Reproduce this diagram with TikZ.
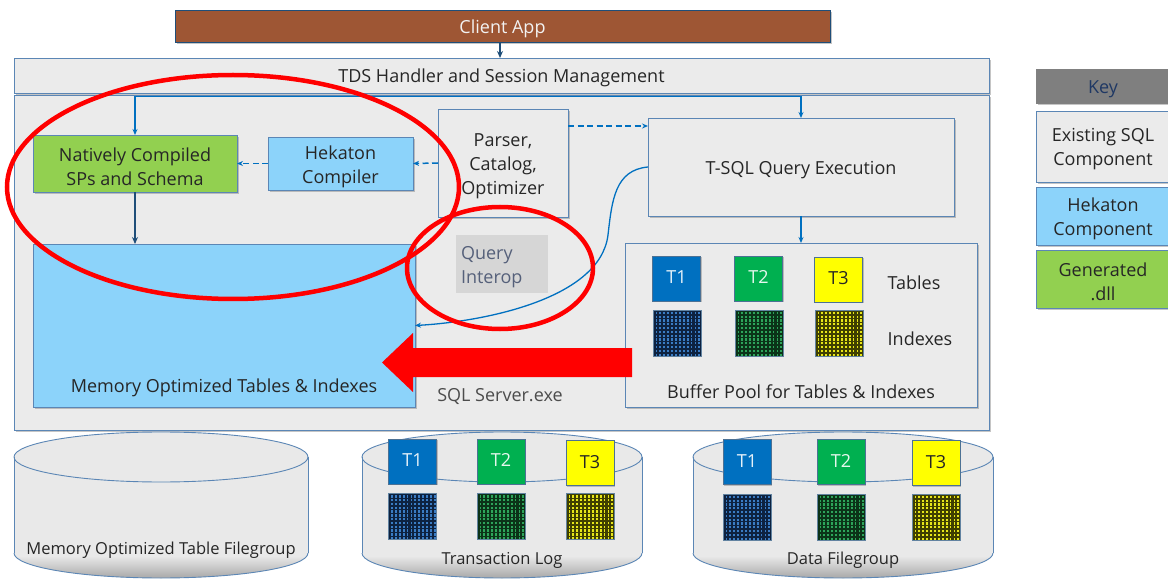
\documentclass[tikz,border=0pt]{standalone}
\usepackage{fontspec}
\setmainfont{Open Sans}
\usetikzlibrary{arrows.meta,calc,shadows}
\definecolor{grayfill}{HTML}{EBEBEB}
\definecolor{bordc}{HTML}{5B86B5}
\definecolor{hekblue}{HTML}{8CD3FA}
\definecolor{gengreen}{HTML}{92D050}
\definecolor{brownc}{HTML}{9E5634}
\definecolor{tone}{HTML}{0070C0}
\definecolor{ttwo}{HTML}{00B050}
\definecolor{tthree}{HTML}{FFFF00}
\definecolor{connblue}{HTML}{0070C0}
\definecolor{conndark}{HTML}{1F4E79}
\definecolor{qitext}{HTML}{55607A}
\definecolor{qifill}{HTML}{D6D6D6}
\definecolor{keygray}{HTML}{7F7F7F}
\definecolor{keytext}{HTML}{1F3864}
\definecolor{cylfill}{HTML}{E9E9E9}
\definecolor{idxbluel}{HTML}{3A7CC4}
\definecolor{idxblued}{HTML}{0D2240}
\definecolor{idxgreenl}{HTML}{2DA45A}
\definecolor{idxgreend}{HTML}{0B3318}
\definecolor{idxyell}{HTML}{E6E619}
\definecolor{idxyeld}{HTML}{3F3F00}
\definecolor{txtdark}{HTML}{262626}
\newcommand\dbcyl[2]{%
  \fill[cylfill] (#1-#2,457) rectangle (#1+#2,553);
  \fill[cylfill] (#1,553) ellipse [x radius=#2, y radius=25];
  \fill[cylfill] (#1,457) ellipse [x radius=#2, y radius=25];
  \begin{scope}
    \clip (#1,553) ellipse [x radius=#2, y radius=25];
    \clip (#1-#2-2,556) rectangle (#1+#2+2,585);
    \shade[top color=cylfill, bottom color=gray!70] (#1-#2-2,556) rectangle (#1+#2+2,579);
  \end{scope}
  \draw[bordc, line width=0.9pt] (#1,457) ellipse [x radius=#2, y radius=25];
  \draw[bordc, line width=0.9pt] (#1-#2,457) -- (#1-#2,553);
  \draw[bordc, line width=0.9pt] (#1+#2,457) -- (#1+#2,553);
  \begin{scope}
    \clip (#1-#2-3,553) rectangle (#1+#2+3,590);
    \draw[bordc, line width=0.9pt] (#1,553) ellipse [x radius=#2, y radius=25];
  \end{scope}}
\tikzset{
  box/.style={draw=bordc, line width=0.9pt, inner sep=0pt, outer sep=0pt,
    drop shadow={shadow xshift=1.8pt, shadow yshift=-1.8pt, opacity=0.45}},
  graybox/.style={box, fill=grayfill},
  bluebox/.style={box, fill=hekblue},
  greenbox/.style={box, fill=gengreen},
  boxtext/.style={inner sep=0pt, align=center, text=txtdark},
  plainlbl/.style={inner sep=0pt, text=txtdark},
  tbox/.style={draw=conndark!80, line width=0.8pt, minimum width=48,
    minimum height=45, inner sep=0pt, text depth=0pt, text height=10pt,
    drop shadow={shadow xshift=1.4pt, shadow yshift=-1.4pt, opacity=0.45}},
  idx/.style 2 args={draw=conndark!70, line width=0.6pt, minimum width=48,
    minimum height=46, inner sep=0pt, fill=#1,
    path picture={
      \foreach \k in {0,...,12}{
        \draw[#2, line width=2.1pt]
          ([xshift=1.5+3.9*\k]path picture bounding box.north west) --
          ([xshift=1.5+3.9*\k]path picture bounding box.south west);}
      \foreach \k in {0,...,12}{
        \draw[#2, line width=1.5pt]
          ([yshift=-1-3.8*\k]path picture bounding box.north west) --
          ([yshift=-1-3.8*\k]path picture bounding box.north east);}
    }},
  conn/.style={connblue, line width=1.3pt, -{Stealth[length=6pt,width=5pt]}},
  conndk/.style={conndark, line width=1.5pt, -{Stealth[length=7pt,width=6pt]}},
  dconn/.style={conn, line width=1.5pt, dash pattern=on 6pt off 3.5pt},
  redring/.style={red, line width=4.5pt},
}
\begin{document}
\begin{tikzpicture}[x=1pt,y=-1pt,font=\fontsize{18}{24}\selectfont]
\useasboundingbox[fill=white] (0,0) rectangle (1168,580);

% SQL Server frame
\node[graybox, minimum width=975, minimum height=35] (tds) at (501.5,75.5) {};
\node[boxtext] (tdst) at ([yshift=-2.5]tds.center) {TDS Handler and Session Management};
\node[graybox, minimum width=975, minimum height=335] (inner) at (501.5,262.5) {};

% client app
\node[box, fill=brownc, draw=conndark, minimum width=655, minimum height=32] (client) at (502.5,26) {};
\node[boxtext, text=white!95!black] (clientt) at ([yshift=-2.5]client.center) {Client App};
\draw[conndk] (client.south -| 500,0) -- (tds.north -| 500,0);

% components
\node[greenbox, minimum width=204, minimum height=57] (nat) at (135,163.5) {};
\node[boxtext] (natt) at ([yshift=-3]nat.center) {Natively Compiled\\SPs and Schema};
\node[bluebox, minimum width=145, minimum height=53] (hek) at (340.5,163.5) {};
\node[boxtext] (hekt) at ([yshift=-3]hek.center) {Hekaton\\Compiler};
\node[graybox, minimum width=130, minimum height=108] (parser) at (503,163) {};
\node[boxtext] (parsert) at ([yshift=-3]parser.center) {Parser,\\Catalog,\\Optimizer};
\node[graybox, minimum width=306, minimum height=98] (tsql) at (801,167) {};
\node[boxtext] (tsqlt) at ([yshift=-3]tsql.center) {T-SQL Query Execution};
\node[fill=qifill, minimum width=92, minimum height=58, inner sep=0pt] (qi) at (502,264) {};
\node[boxtext, text=qitext, align=left, text width=82] (qit) at ([yshift=-3]qi.center) {Query\\Interop};
\node[bluebox, minimum width=382, minimum height=163] (mem) at (224,325.5) {};
\node[plainlbl] (memlbl) at (224,388) {Memory Optimized Tables \& Indexes};
\node[graybox, minimum width=352, minimum height=164] (bp) at (801,325) {};
\node[plainlbl] (bplbl) at (801,392) {Buffer Pool for Tables \& Indexes};
\node[plainlbl, text=black!70] (sqlexe) at (500,397) {SQL Server.exe};

% buffer pool contents
\node[tbox, fill=tone, text=white!90!tone] (bpt1) at (676.5,278.5) {T1};
\node[tbox, fill=ttwo, text=white!90!ttwo] (bpt2) at (758.5,278.5) {T2};
\node[tbox, fill=tthree, text=black!85] (bpt3) at (838.5,279.5) {T3};
\node[idx={idxbluel}{idxblued}] (bpi1) at (677,333) {};
\node[idx={idxgreenl}{idxgreend}] (bpi2) at (759,333) {};
\node[idx={idxyell}{idxyeld}] (bpi3) at (839,333) {};
\node[plainlbl] (tables) at (914,283) {Tables};
\node[plainlbl] (indexes) at (920,339) {Indexes};

% connectors
\coordinate (j) at (500,96.5);
\draw[conn] (j) -| (nat);
\draw[conn] (j) -| (tsql);
\draw[dconn] (parser.east |- 0,126) -- (tsql.west |- 0,126);
\draw[dconn] (parser.west) -- (hek.east);
\draw[dconn] (hek.west) -- (nat.east);
\draw[conndk] (nat.south) -- (mem.north -| nat.south);
\draw[conn] (tsql.south) -- (bp.north);
\draw[conn] (tsql.west) .. controls (615,170) and (612,200) .. (608,235)
  .. controls (600,300) and (480,322) .. (mem.east);

% big red arrow
\fill[red] (632,348) -- (413,348) -- (413,333) -- (382,362.5) -- (413,392)
  -- (413,377) -- (632,377) -- cycle;

% storage cylinders
\dbcyl{161}{147}
\dbcyl{502}{140}
\dbcyl{843}{150}
\node[plainlbl, font=\fontsize{16.5}{20}\selectfont] (mofg) at (161,550)
  {Memory Optimized Table Filegroup};
\node[plainlbl, font=\fontsize{16.5}{20}\selectfont] (tlog) at (502,560)
  {Transaction Log};
\node[plainlbl, font=\fontsize{16.5}{20}\selectfont] (dfg) at (843,560)
  {Data Filegroup};

\node[tbox, fill=tone, text=white!90!tone] (tlt1) at (412.5,461.5) {T1};
\node[tbox, fill=ttwo, text=white!90!ttwo] (tlt2) at (501,461.5) {T2};
\node[tbox, fill=tthree, text=black!85] (tlt3) at (590,463) {T3};
\node[idx={idxbluel}{idxblued}] (tli1) at (412.5,516.5) {};
\node[idx={idxgreenl}{idxgreend}] (tli2) at (501,516.5) {};
\node[idx={idxyell}{idxyeld}] (tli3) at (590,516.5) {};

\node[tbox, fill=tone, text=white!90!tone] (dft1) at (747,462) {T1};
\node[tbox, fill=ttwo, text=white!90!ttwo] (dft2) at (841,462) {T2};
\node[tbox, fill=tthree, text=black!85] (dft3) at (936,463) {T3};
\node[idx={idxbluel}{idxblued}] (dfi1) at (747,517) {};
\node[idx={idxgreenl}{idxgreend}] (dfi2) at (841,517) {};
\node[idx={idxyell}{idxyeld}] (dfi3) at (936,517) {};

% key
\node[box, fill=keygray, draw=gray, minimum width=134, minimum height=34] (keyh) at (1103,86) {};
\node[boxtext, text=keytext] (keyht) at ([yshift=-3]keyh.center) {Key};
\node[graybox, minimum width=134, minimum height=71] (key1) at (1103,146.5) {};
\node[boxtext] (key1t) at ([yshift=-3]key1.center) {Existing SQL\\Component};
\node[bluebox, minimum width=134, minimum height=58] (key2) at (1103,216) {};
\node[boxtext] (key2t) at ([yshift=-3]key2.center) {Hekaton\\Component};
\node[greenbox, minimum width=134, minimum height=58] (key3) at (1103,279) {};
\node[boxtext] (key3t) at ([yshift=-3]key3.center) {Generated\\.dll};

% red rings
\draw[redring] (233,187) ellipse [x radius=226, y radius=112];
\draw[redring] (500,268) ellipse [x radius=93, y radius=61];
\end{tikzpicture}
\end{document}
